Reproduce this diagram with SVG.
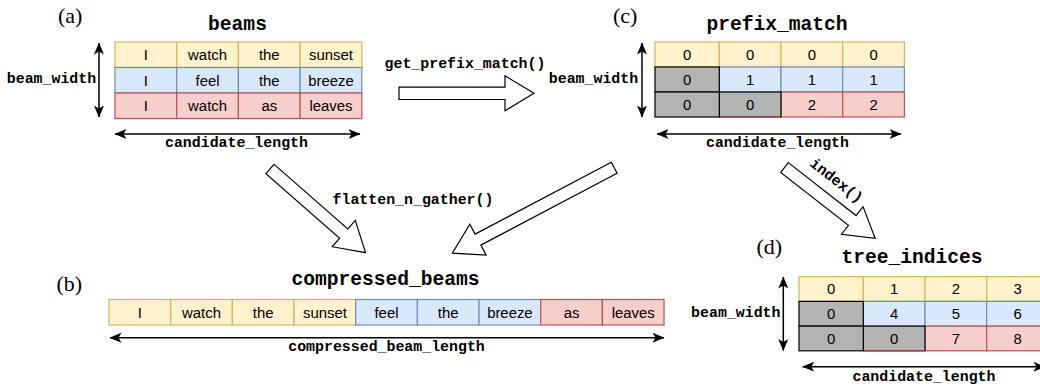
<svg xmlns="http://www.w3.org/2000/svg" width="1040" height="389" viewBox="0 0 1040 389">
<style>
.y{fill:#fff2cc;stroke:#d6b656;stroke-width:1.2}
.b{fill:#dae8fc;stroke:#6c8ebf;stroke-width:1.2}
.r{fill:#f8cecc;stroke:#b85450;stroke-width:1.2}
.g{fill:#b3b3b3;stroke:#000;stroke-width:1.2}
.ct{font-family:"Liberation Sans",Arial,sans-serif;font-size:14.9px;text-anchor:middle;fill:#000}
.tt{font-family:"Liberation Mono","Courier New",monospace;font-weight:bold;font-size:19.6px;text-anchor:middle;fill:#000}
.lb{font-family:"Liberation Mono","Courier New",monospace;font-weight:bold;font-size:14.9px;text-anchor:middle;fill:#000}
.pl{font-family:"Liberation Serif","Times New Roman",serif;font-size:22px;fill:#000}
.dl{stroke:#000;stroke-width:1.5;fill:none;marker-start:url(#ah);marker-end:url(#ah)}
.ba{fill:#fff;stroke:#000;stroke-width:1.2;stroke-linejoin:miter}
</style>
<defs>
<marker id="ah" viewBox="0 0 12 10" refX="11.5" refY="5" markerWidth="12" markerHeight="10" markerUnits="userSpaceOnUse" orient="auto-start-reverse">
<path d="M0,0 L12,5 L0,10 L3,5 Z" fill="#000"/>
</marker>
</defs>

<g id="panel-a">
<text class="pl" x="58" y="23">(a)</text>
<text class="tt" x="237.5" y="30">beams</text>
<g id="beams-table">
<rect class="y" x="115" y="42" width="61.7" height="25.5"/>
<rect class="y" x="176.7" y="42" width="61.7" height="25.5"/>
<rect class="y" x="238.4" y="42" width="61.7" height="25.5"/>
<rect class="y" x="300.1" y="42" width="61.7" height="25.5"/>
<rect class="b" x="115" y="67.5" width="61.7" height="25.5"/>
<rect class="b" x="176.7" y="67.5" width="61.7" height="25.5"/>
<rect class="b" x="238.4" y="67.5" width="61.7" height="25.5"/>
<rect class="b" x="300.1" y="67.5" width="61.7" height="25.5"/>
<rect class="r" x="115" y="93" width="61.7" height="25.5"/>
<rect class="r" x="176.7" y="93" width="61.7" height="25.5"/>
<rect class="r" x="238.4" y="93" width="61.7" height="25.5"/>
<rect class="r" x="300.1" y="93" width="61.7" height="25.5"/>
<text class="ct" x="145.85" y="60">I</text>
<text class="ct" x="207.55" y="60">watch</text>
<text class="ct" x="269.25" y="60">the</text>
<text class="ct" x="330.95" y="60">sunset</text>
<text class="ct" x="145.85" y="85.5">I</text>
<text class="ct" x="207.55" y="85.5">feel</text>
<text class="ct" x="269.25" y="85.5">the</text>
<text class="ct" x="330.95" y="85.5">breeze</text>
<text class="ct" x="145.85" y="111">I</text>
<text class="ct" x="207.55" y="111">watch</text>
<text class="ct" x="269.25" y="111">as</text>
<text class="ct" x="330.95" y="111">leaves</text>
</g>
<text class="lb" x="51.5" y="83">beam_width</text>
<text class="lb" x="236.5" y="147">candidate_length</text>
</g>

<g id="panel-c">
<text class="pl" x="613" y="23">(c)</text>
<text class="tt" x="777" y="30">prefix_match</text>
<g id="prefix-table">
<rect class="y" x="655" y="42" width="64.3" height="25"/>
<rect class="y" x="719.3" y="42" width="61.7" height="25"/>
<rect class="y" x="781" y="42" width="61.7" height="25"/>
<rect class="y" x="842.7" y="42" width="61.7" height="25"/>
<rect class="b" x="719.3" y="67" width="61.7" height="25"/>
<rect class="b" x="781" y="67" width="61.7" height="25"/>
<rect class="b" x="842.7" y="67" width="61.7" height="25"/>
<rect class="r" x="781" y="92" width="61.7" height="25"/>
<rect class="r" x="842.7" y="92" width="61.7" height="25"/>
<rect class="g" x="655" y="67" width="64.3" height="25"/>
<rect class="g" x="719.3" y="92" width="61.7" height="25"/>
<rect class="g" x="655" y="92" width="64.3" height="25"/>
<line x1="719.9" y1="117" x2="781" y2="117" stroke="#b85450" stroke-width="1.2"/>
<text class="ct" x="687.15" y="59.8">0</text>
<text class="ct" x="750.15" y="59.8">0</text>
<text class="ct" x="811.85" y="59.8">0</text>
<text class="ct" x="873.55" y="59.8">0</text>
<text class="ct" x="687.15" y="84.8">0</text>
<text class="ct" x="750.15" y="84.8">1</text>
<text class="ct" x="811.85" y="84.8">1</text>
<text class="ct" x="873.55" y="84.8">1</text>
<text class="ct" x="687.15" y="109.8">0</text>
<text class="ct" x="750.15" y="109.8">0</text>
<text class="ct" x="811.85" y="109.8">2</text>
<text class="ct" x="873.55" y="109.8">2</text>
</g>
<text class="lb" x="593.5" y="83">beam_width</text>
<text class="lb" x="777.5" y="147">candidate_length</text>
</g>

<g id="panel-b">
<text class="pl" x="56.5" y="290.5">(b)</text>
<text class="tt" x="385.5" y="285">compressed_beams</text>
<g id="compressed-table">
<rect class="y" x="109" y="299.5" width="61.67" height="25.5"/>
<rect class="y" x="170.67" y="299.5" width="61.67" height="25.5"/>
<rect class="y" x="232.34" y="299.5" width="61.67" height="25.5"/>
<rect class="y" x="294.01" y="299.5" width="61.67" height="25.5"/>
<rect class="b" x="355.68" y="299.5" width="61.67" height="25.5"/>
<rect class="b" x="417.35" y="299.5" width="61.67" height="25.5"/>
<rect class="b" x="479.02" y="299.5" width="61.67" height="25.5"/>
<rect class="r" x="540.69" y="299.5" width="61.67" height="25.5"/>
<rect class="r" x="602.36" y="299.5" width="61.67" height="25.5"/>
<text class="ct" x="139.8" y="317.5">I</text>
<text class="ct" x="201.5" y="317.5">watch</text>
<text class="ct" x="263.2" y="317.5">the</text>
<text class="ct" x="324.9" y="317.5">sunset</text>
<text class="ct" x="386.5" y="317.5">feel</text>
<text class="ct" x="448.2" y="317.5">the</text>
<text class="ct" x="509.9" y="317.5">breeze</text>
<text class="ct" x="571.6" y="317.5">as</text>
<text class="ct" x="633.2" y="317.5">leaves</text>
</g>
<text class="lb" x="386.5" y="351">compressed_beam_length</text>
</g>

<g id="panel-d">
<text class="pl" x="756.5" y="254">(d)</text>
<text class="tt" x="912" y="263">tree_indices</text>
<g id="tree-table">
<rect class="y" x="799" y="276.7" width="64.3" height="24.7"/>
<rect class="y" x="863.3" y="276.7" width="61.7" height="24.7"/>
<rect class="y" x="925" y="276.7" width="61.7" height="24.7"/>
<rect class="y" x="986.7" y="276.7" width="61.7" height="24.7"/>
<rect class="b" x="863.3" y="301.4" width="61.7" height="24.7"/>
<rect class="b" x="925" y="301.4" width="61.7" height="24.7"/>
<rect class="b" x="986.7" y="301.4" width="61.7" height="24.7"/>
<rect class="r" x="925" y="326.1" width="61.7" height="24.7"/>
<rect class="r" x="986.7" y="326.1" width="61.7" height="24.7"/>
<rect class="g" x="799" y="301.4" width="64.3" height="24.7"/>
<rect class="g" x="863.3" y="326.1" width="61.7" height="24.7"/>
<rect class="g" x="799" y="326.1" width="64.3" height="24.7"/>
<line x1="863.9" y1="350.8" x2="925" y2="350.8" stroke="#b85450" stroke-width="1.2"/>
<text class="ct" x="831.15" y="294.3">0</text>
<text class="ct" x="894.15" y="294.3">1</text>
<text class="ct" x="955.85" y="294.3">2</text>
<text class="ct" x="1017.55" y="294.3">3</text>
<text class="ct" x="831.15" y="319">0</text>
<text class="ct" x="894.15" y="319">4</text>
<text class="ct" x="955.85" y="319">5</text>
<text class="ct" x="1017.55" y="319">6</text>
<text class="ct" x="831.15" y="343.7">0</text>
<text class="ct" x="894.15" y="343.7">0</text>
<text class="ct" x="955.85" y="343.7">7</text>
<text class="ct" x="1017.55" y="343.7">8</text>
</g>
<text class="lb" x="735.8" y="317">beam_width</text>
<text class="lb" x="924" y="381">candidate_length</text>
</g>

<g id="connectors">
<line class="dl" x1="99" y1="43" x2="99" y2="117"/>
<line class="dl" x1="115" y1="134" x2="360" y2="134"/>
<line class="dl" x1="642" y1="43" x2="642" y2="117"/>
<line class="dl" x1="657" y1="134" x2="901" y2="134"/>
<line class="dl" x1="110" y1="337.7" x2="664" y2="337.7"/>
<line class="dl" x1="783.3" y1="277" x2="783.3" y2="350.5"/>
<line class="dl" x1="802.7" y1="366.7" x2="1045" y2="366.7"/>
<g id="arrow-get-prefix-match" transform="translate(399,93.3)">
<path class="ba" d="M0,-6.2 L106,-6.2 L106,-17.5 L135,0 L106,17.5 L106,6.2 L0,6.2 Z"/>
</g>
<text class="lb" x="465" y="67.5">get_prefix_match()</text>
<g id="arrow-flatten-a" transform="translate(270,169) rotate(41.2)">
<path class="ba" d="M0,-6.2 L98,-6.2 L98,-17.5 L127,0 L98,17.5 L98,6.2 L0,6.2 Z"/>
</g>
<g id="arrow-flatten-c" transform="translate(614.2,167.8) rotate(152.2)">
<path class="ba" d="M0,-6.2 L154,-6.2 L154,-17.5 L183,0 L154,17.5 L154,6.2 L0,6.2 Z"/>
</g>
<text class="lb" x="413" y="204">flatten_n_gather()</text>
<g id="arrow-index" transform="translate(784.5,167.5) rotate(38)">
<path class="ba" d="M0,-6.2 L86,-6.2 L86,-17.5 L115,0 L86,17.5 L86,6.2 L0,6.2 Z"/>
<text class="lb" x="49" y="-17">index()</text>
</g>
</g>
</svg>
